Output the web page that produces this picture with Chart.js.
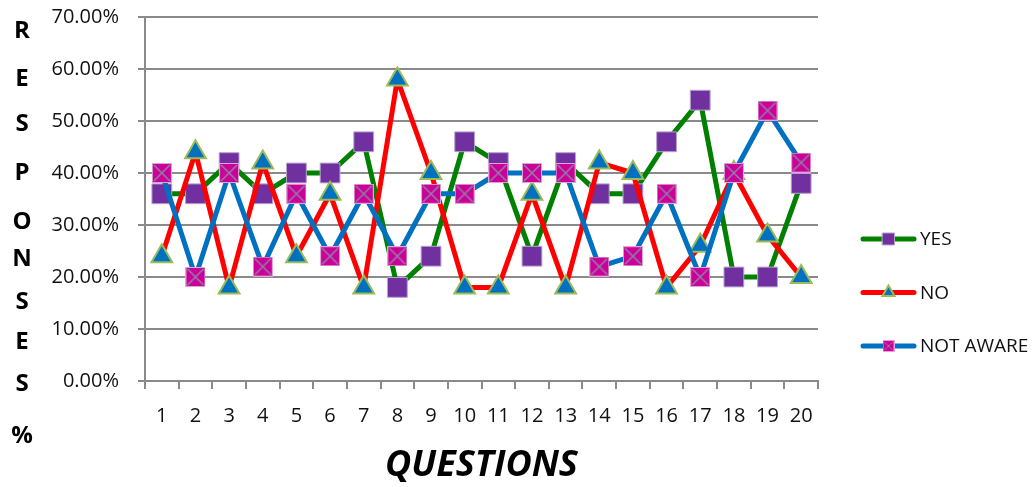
<!DOCTYPE html>
<html>
<head>
<meta charset="utf-8">
<script src="https://cdn.jsdelivr.net/npm/chart.js@4.4.0/dist/chart.umd.min.js"></script>
<style>
  html, body { margin: 0; padding: 0; background: #fff; }
  canvas { display: block; }
</style>
</head>
<body>
<canvas id="chart" width="1036" height="487"></canvas>
<script>
// data
const questions = ['1', '2', '3', '4', '5', '6', '7', '8', '9', '10',
  '11', '12', '13', '14', '15', '16', '17', '18', '19', '20'];
const yesValues = [36, 36, 42, 36, 40, 40, 46, 18, 24, 46, 42, 24, 42, 36, 36, 46, 54, 20, 20, 38];
const noValues = [24, 44, 18, 42, 24, 36, 18, 58, 40, 18, 18, 36, 18, 42, 40, 18, 26, 40, 28, 20];
const notAwareValues = [40, 20, 40, 22, 36, 24, 36, 24, 36, 36, 40, 40, 40, 22, 24, 36, 20, 40, 52, 42];
const seriesNames = ['YES', 'NO', 'NOT AWARE'];
const yMin = 0, yMax = 70, yStep = 10;
const yAxisTitle = 'RESPONSES%';
const xAxisTitle = 'QUESTIONS';

const FONT = "'Open Sans', 'DejaVu Sans', sans-serif";

// magenta box with a grey cross, used for NOT AWARE markers
function makeCrossBox(size) {
  const c = document.createElement('canvas');
  c.width = size;
  c.height = size;
  const g = c.getContext('2d');
  g.fillStyle = '#cc0099';
  g.fillRect(0, 0, size, size);
  g.strokeStyle = '#e3a3d4';
  g.lineWidth = 1;
  g.strokeRect(0.5, 0.5, size - 1, size - 1);
  g.strokeStyle = '#8f7ea8';
  g.lineWidth = Math.max(1, size / 12);
  g.beginPath();
  g.moveTo(2, 2); g.lineTo(size - 2, size - 2);
  g.moveTo(size - 2, 2); g.lineTo(2, size - 2);
  g.stroke();
  return c;
}
const crossBox = makeCrossBox(20);
const crossBoxSmall = makeCrossBox(12);

// stacked letters on the left
const sideTitlePlugin = {
  id: 'sideTitle',
  afterDraw(chart) {
    const ctx = chart.ctx;
    const letterY = [31, 79, 124, 173, 222, 259, 302, 342, 384, 436];
    ctx.save();
    ctx.font = 'bold 24px ' + FONT;
    ctx.fillStyle = '#000';
    ctx.textAlign = 'center';
    ctx.textBaseline = 'middle';
    yAxisTitle.split('').forEach((ch, i) => ctx.fillText(ch, 22, letterY[i]));
    ctx.restore();
  }
};

// legend on the right: line with marker in the middle
const sideLegendPlugin = {
  id: 'sideLegend',
  afterDraw(chart) {
    const ctx = chart.ctx;
    const markers = [
      { style: 'rect', radius: 8.5, fill: '#7030a0', stroke: '#b7a3cc', bw: 1 },
      { style: 'triangle', radius: 7, fill: '#0070c0', stroke: '#9bbb59', bw: 2 },
      { style: crossBoxSmall, radius: 6, fill: '#cc0099', stroke: '#cc0099', bw: 0 }
    ];
    chart.data.datasets.forEach((ds, i) => {
      const y = 239 + i * 53.5;
      ctx.save();
      ctx.strokeStyle = ds.borderColor;
      ctx.lineWidth = 5;
      ctx.lineCap = 'round';
      ctx.beginPath();
      ctx.moveTo(863, y);
      ctx.lineTo(914, y);
      ctx.stroke();
      const m = markers[i];
      ctx.fillStyle = m.fill;
      ctx.strokeStyle = m.stroke;
      ctx.lineWidth = m.bw;
      Chart.helpers.drawPoint(ctx, { pointStyle: m.style, rotation: 0, radius: m.radius, borderWidth: m.bw }, 888.5, y);
      ctx.font = '19px ' + FONT;
      ctx.fillStyle = '#111';
      ctx.textAlign = 'left';
      ctx.textBaseline = 'middle';
      ctx.fillText(ds.label, 920, y + 1);
      ctx.restore();
    });
  }
};

new Chart(document.getElementById('chart'), {
  type: 'line',
  data: {
    labels: questions,
    datasets: [
      {
        label: seriesNames[0],
        data: yesValues,
        order: 3,
        borderColor: '#008000',
        borderWidth: 5,
        borderJoinStyle: 'round',
        pointStyle: 'rect',
        pointRadius: 14,
        pointBackgroundColor: '#7030a0',
        pointBorderColor: '#b7a3cc',
        pointBorderWidth: 1,
        tension: 0
      },
      {
        label: seriesNames[1],
        data: noValues,
        order: 2,
        borderColor: '#ff0000',
        borderWidth: 5,
        borderJoinStyle: 'round',
        pointStyle: 'triangle',
        pointRadius: 12,
        pointBackgroundColor: '#0070c0',
        pointBorderColor: '#9bbb59',
        pointBorderWidth: 2,
        tension: 0
      },
      {
        label: seriesNames[2],
        data: notAwareValues,
        order: 1,
        borderColor: '#0070c0',
        borderWidth: 5,
        borderJoinStyle: 'round',
        pointStyle: crossBox,
        pointRadius: 10,
        tension: 0
      }
    ]
  },
  options: {
    responsive: false,
    animation: false,
    layout: { padding: { left: 0, right: 218, top: 17, bottom: 0 } },
    plugins: {
      legend: { display: false },
      tooltip: { enabled: false }
    },
    scales: {
      x: {
        offset: true,
        grid: {
          offset: true,
          drawOnChartArea: false,
          drawTicks: true,
          tickLength: 8,
          color: '#8a8a8a',
          lineWidth: 2
        },
        border: { color: '#8a8a8a', width: 2 },
        ticks: {
          color: '#111',
          font: { family: FONT, size: 20 },
          padding: 15,
          maxRotation: 0,
          autoSkip: false
        },
        title: {
          display: true,
          text: xAxisTitle,
          color: '#000',
          font: { family: FONT, size: 36, weight: 'bold', style: 'italic' },
          padding: { top: 0, bottom: 0 }
        },
        afterFit(scale) {
          scale.height = 106;
          scale.paddingLeft = 0;
          scale.paddingRight = 0;
        }
      },
      y: {
        min: yMin,
        max: yMax,
        grid: {
          color: '#8a8a8a',
          lineWidth: 2,
          tickLength: 7
        },
        border: { color: '#8a8a8a', width: 2 },
        ticks: {
          stepSize: yStep,
          color: '#111',
          font: { family: FONT, size: 20 },
          padding: 19,
          callback: (v) => v.toFixed(2) + '%'
        },
        afterFit(scale) {
          scale.width = 145;
          scale.paddingTop = 0;
          scale.paddingBottom = 0;
        }
      }
    }
  },
  plugins: [sideTitlePlugin, sideLegendPlugin]
});
</script>
</body>
</html>
